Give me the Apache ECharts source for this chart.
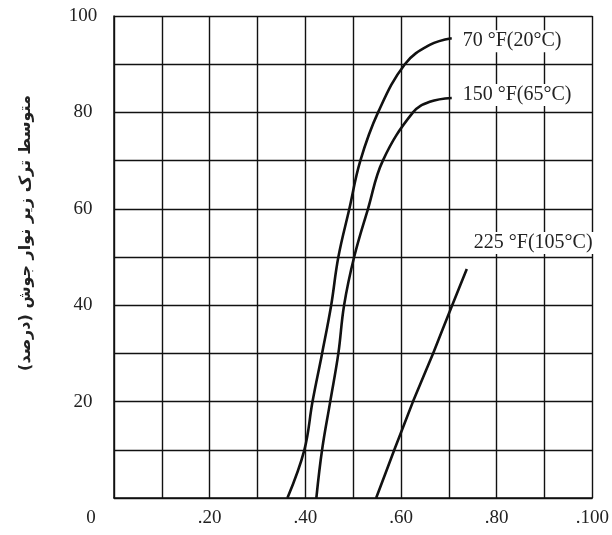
<!DOCTYPE html>
<html>
<head>
<meta charset="utf-8">
<script src="https://cdn.jsdelivr.net/npm/echarts@6/dist/echarts.min.js"></script>
<style>
  html, body { margin: 0; padding: 0; background: #fff; }
  #chart { width: 612px; height: 535px; }
</style>
</head>
<body>
<div id="chart"></div>
<script>
// Crack ratio vs. value, one curve per test temperature
const seriesNames = ['70 °F(20°C)', '150 °F(65°C)', '225 °F(105°C)'];

const temp70X = [0.3625, 0.398, 0.415, 0.435, 0.454, 0.469, 0.492, 0.515, 0.552, 0.608, 0.66, 0.706];
const temp70Y = [0, 10, 20, 30, 40, 50, 60, 70, 80, 90, 94, 95.4];

const temp150X = [0.423, 0.435, 0.452, 0.469, 0.481, 0.502, 0.531, 0.562, 0.625, 0.66, 0.706];
const temp150Y = [0, 10, 20, 30, 40, 50, 60, 70, 80, 82.2, 83];

const temp225X = [0.548, 0.586, 0.625, 0.667, 0.707, 0.7375];
const temp225Y = [0, 10, 20, 30, 40, 47.5];

const xTickLabels = ['0', '.20', '.40', '.60', '.80', '.100'];
const yTickLabels = ['20', '40', '60', '80', '100'];

const yTitle = 'متوسط ترک زیر نوار جوش (درصد)';

function pairs(xs, ys) {
  return xs.map((x, i) => [x, ys[i]]);
}

const serif = 'Liberation Serif';
const ink = '#111';

const chart = echarts.init(document.getElementById('chart'), null, { renderer: 'canvas' });

function curve(name, xs, ys, smooth, labelOffset) {
  return {
    name: name,
    type: 'line',
    data: pairs(xs, ys),
    smooth: smooth,
    showSymbol: false,
    symbol: 'none',
    lineStyle: { color: ink, width: 2.6 },
    z: 3,
    endLabel: {
      show: true,
      formatter: name,
      distance: 8,
      offset: labelOffset,
      fontFamily: serif,
      fontSize: 20,
      color: '#222',
      backgroundColor: '#fff',
      padding: [1, 3, 1, 3]
    }
  };
}

chart.setOption({
  animation: false,
  backgroundColor: '#fff',
  grid: { left: 114, right: 18, top: 16, bottom: 37, containLabel: false },
  xAxis: {
    type: 'value',
    min: 0,
    max: 1,
    interval: 0.1,
    axisLine: { show: true, lineStyle: { color: ink, width: 1.5 } },
    axisTick: { show: false },
    splitLine: { show: true, lineStyle: { color: ink, width: 1.4 } },
    axisLabel: {
      margin: 11,
      fontFamily: serif,
      fontSize: 19,
      color: '#222',
      formatter: function (v) {
        const idx = Math.round(v * 10);
        if (idx % 2 !== 0) return '';
        if (idx === 0) return '{o|' + xTickLabels[0] + '}';
        return xTickLabels[idx / 2];
      },
      rich: {
        o: { fontFamily: serif, fontSize: 19, color: '#222', padding: [0, 46, 0, 0] }
      }
    }
  },
  yAxis: {
    type: 'value',
    min: 0,
    max: 100,
    interval: 10,
    axisLine: { show: true, lineStyle: { color: ink, width: 1.5 } },
    axisTick: { show: false },
    splitLine: { show: true, lineStyle: { color: ink, width: 1.4 } },
    axisLabel: {
      margin: 31,
      align: 'center',
      fontFamily: serif,
      fontSize: 19,
      color: '#222',
      formatter: function (v) {
        const idx = Math.round(v / 10);
        if (idx === 0 || idx % 2 !== 0) return '';
        return yTickLabels[idx / 2 - 1];
      }
    }
  },
  graphic: [{
    type: 'text',
    x: 26,
    y: 233,
    rotation: Math.PI / 2,
    style: {
      text: yTitle,
      fontFamily: 'DejaVu Sans',
      fontWeight: 'bold',
      fontSize: 16,
      fill: '#222',
      align: 'center',
      verticalAlign: 'middle'
    }
  }],
  series: [
    curve(seriesNames[0], temp70X, temp70Y, 0.4, [0, 3]),
    curve(seriesNames[1], temp150X, temp150Y, 0.4, [0, -3]),
    curve(seriesNames[2], temp225X, temp225Y, 0.1, [-4, -26])
  ]
});
</script>
</body>
</html>
